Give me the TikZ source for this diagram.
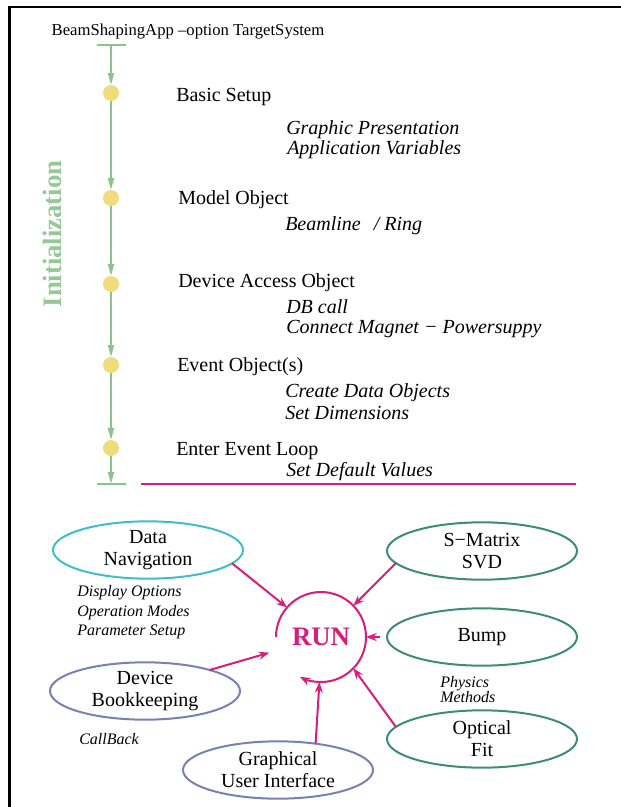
\documentclass[tikz,border=0pt]{standalone}
\usepackage{fontspec}
\setmainfont{Liberation Serif}
\usetikzlibrary{arrows.meta,shapes.geometric}
\definecolor{flowgreen}{RGB}{140,194,140}
\definecolor{initgreen}{RGB}{150,200,150}
\definecolor{dotyellow}{RGB}{238,220,125}
\definecolor{runmag}{RGB}{214,30,122}
\definecolor{navcyan}{RGB}{64,190,200}
\definecolor{physteal}{RGB}{60,140,118}
\definecolor{slateblue}{RGB}{120,128,180}
\begin{document}
\begin{tikzpicture}[x=0.75pt,y=-0.75pt,
  lbl/.style={anchor=base west, inner sep=0, font=\fontsize{15}{18}\selectfont},
  sublbl/.style={anchor=base west, inner sep=0, font=\fontsize{15}{18}\selectfont\itshape},
  smalllbl/.style={anchor=base west, inner sep=0, font=\fontsize{12}{14}\selectfont\itshape},
  stepdot/.style={circle, fill=dotyellow, minimum size=12pt, inner sep=0, outer sep=0},
  flow/.style={draw=flowgreen, line width=1.5pt, -{Triangle[length=9pt,width=4.5pt]}},
  bubble/.style={ellipse, draw, line width=1.5pt, minimum width=142.5pt, minimum height=43pt, inner sep=0, outer sep=0, align=center, font=\fontsize{15}{16.5}\selectfont},
  feed/.style={draw=runmag, line width=1.5pt, -{Stealth[length=8pt,width=6pt]}},
]
\useasboundingbox (0,0) rectangle (621,807);
\draw[line width=2pt] (9.5,807) -- (9.5,7) -- (621,7);

% title
\node[anchor=base, inner sep=0, font=\fontsize{12.5}{14}\selectfont] (title) at (188,35) {BeamShapingApp –option TargetSystem};

% flow
\coordinate (top) at (111,45);
\coordinate (bottom) at (111,484);
\draw[flowgreen, line width=1.5pt] (97,45) -- (126,45);
\draw[flowgreen, line width=1.5pt] (97,484) -- (126,484);
\node[stepdot] (d1) at (111,93) {};
\node[stepdot] (d2) at (111,198) {};
\node[stepdot] (d3) at (111,284) {};
\node[stepdot] (d4) at (111,365) {};
\node[stepdot] (d5) at (111,448) {};
\draw[flow] (top) -- (d1);
\draw[flow] (d1) -- (d2);
\draw[flow] (d2) -- (d3);
\draw[flow] (d3) -- (d4);
\draw[flow] (d4) -- (d5);
\draw[flow] (d5) -- (bottom);
\draw[runmag, line width=1.5pt] (141,484) -- (576,484);

\node[rotate=90, inner sep=0, text=initgreen, font=\fontsize{20}{22}\selectfont\bfseries] (init) at (52,234) {Initialization};

\node[lbl] (t1) at (176,101) {Basic Setup};
\node[sublbl] (t1a) at (286,134) {Graphic Presentation};
\node[sublbl] (t1b) at (287,154) {Application Variables};
\node[lbl] (t2) at (178,204) {Model Object};
\node[sublbl] (t2a) at (285,230) {Beamline \hspace{6pt}/ Ring};
\node[lbl] (t3) at (178,287) {Device Access Object};
\node[sublbl] (t3a) at (286,313) {DB call};
\node[sublbl] (t3b) at (286,333) {Connect Magnet − Powersuppy};
\node[lbl] (t4) at (177,371) {Event Object(s)};
\node[sublbl] (t4a) at (285,397) {Create Data Objects};
\node[sublbl] (t4b) at (285,419) {Set Dimensions};
\node[lbl] (t5) at (176,455) {Enter Event Loop};
\node[sublbl] (t5a) at (286,476) {Set Default Values};

% run section
\node[bubble, draw=navcyan] (dn) at (148,550) {Data\\Navigation};
\node[bubble, draw=physteal] (sm) at (482,551) {S−Matrix\\SVD};
\node[bubble, draw=physteal] (bump) at (482,637) {Bump};
\node[bubble, draw=physteal] (of) at (482,739) {Optical\\Fit};
\node[bubble, draw=slateblue] (db) at (145,691) {Device\\Bookkeeping};
\node[bubble, draw=slateblue] (gui) at (278,770) {Graphical\\User Interface};

\node[circle, minimum size=67.5pt, inner sep=0, outer sep=0, text=runmag, font=\fontsize{20}{22}\selectfont\bfseries] (run) at (321,637) {RUN};
\draw[runmag, line width=1.5pt, -{Stealth[length=8pt,width=6pt]}] (run.180) arc[start angle=180, end angle=-118, radius=33.75pt];

\draw[feed] (dn.-9) -- (run.139);
\draw[feed] (sm.188) -- (run.44);
\draw[feed, shorten <=5pt] (bump.west) -- (run.east);
\draw[feed] (of.172) -- (run.-44);
\draw[feed] (gui.35) -- (run.-92);
\draw[feed, shorten >=6.75pt] (db.18) -- (run.197);

\node[smalllbl] (l1) at (77,596) {Display Options};
\node[smalllbl] (l2) at (77,616) {Operation Modes};
\node[smalllbl] (l3) at (77,635) {Parameter Setup};
\node[smalllbl] (l4) at (440,687) {Physics};
\node[smalllbl] (l5) at (440,702) {Methods};
\node[smalllbl] (l6) at (79,744) {CallBack};
\end{tikzpicture}
\end{document}
